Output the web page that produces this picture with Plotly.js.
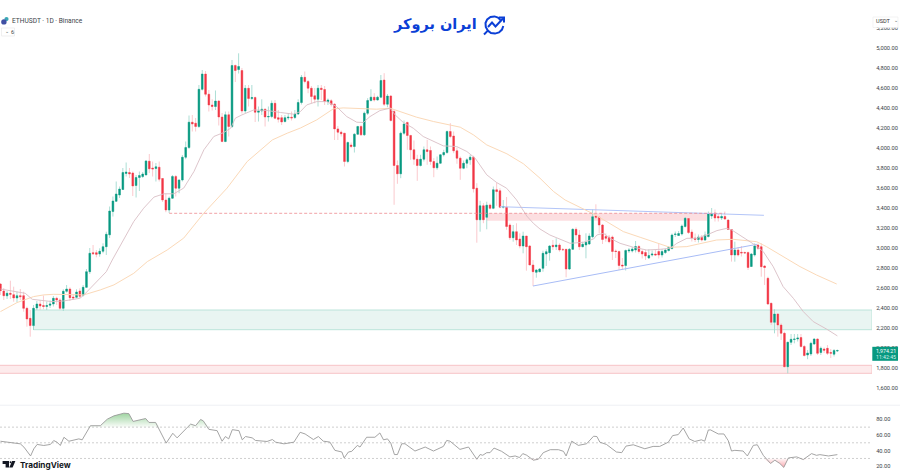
<!DOCTYPE html>
<html><head><meta charset="utf-8">
<script src="https://cdn.plot.ly/plotly-3.0.1.min.js"></script>
<style>html,body{margin:0;padding:0;background:#fff;overflow:hidden}</style>
</head><body><div id="c" style="width:900px;height:471px"></div>
<script>
const open=[2640,2570,2522,2547,2533,2500,2523,2523,2397,2297,
2224,2400,2440,2425,2415,2428,2440,2497,2480,2397,
2567,2590,2510,2507,2570,2527,2607,2763,2953,2953,
2940,2967,3013,3132,3365,3467,3530,3585,3745,3755,
3750,3625,3705,3715,3730,3868,3800,3795,3808,3695,
3480,3380,3498,3715,3598,3680,3908,4005,4258,4248,
4215,4587,4740,4538,4430,4415,4470,4310,4065,4332,
4215,4825,4785,4775,4370,4597,4495,4505,4358,4370,
4388,4310,4315,4447,4303,4303,4265,4300,4308,4305,
4340,4455,4707,4665,4598,4522,4488,4598,4585,4465,
4472,4438,4191,4158,4148,3865,4030,4015,4138,4215,
4132,4348,4475,4508,4480,4508,4680,4438,4520,4365,
3825,3742,4148,4255,4125,3982,3888,3825,3888,3982,
3975,3865,3802,3848,3932,3955,4165,4120,3972,3898,
3798,3848,3882,3908,3598,3282,3422,3307,3430,3397,
3582,3572,3408,3408,3230,3103,3163,3090,3020,3120,
3020,2830,2757,2763,2797,2940,2953,3027,3013,3030,
2985,2987,2790,2987,3187,3130,3013,3030,3040,3113,
3320,3307,3230,3115,3107,3110,2970,2965,2830,2825,
2970,2970,2980,3015,2965,2955,2900,2930,2940,2965,
2930,2955,2975,2995,3135,3125,3140,3215,3295,3160,
3100,3085,3105,3080,3115,3320,3350,3315,3300,3315,
3280,3185,2930,2980,2957,2955,2955,2815,2930,3030,
3013,2820,2697,2447,2257,2340,2230,2147,1813,2057,
2085,2090,2105,2015,1930,1940,2040,2090,1955,1990,
1997,1955,1938,1970];
const high=[2650,2600,2570,2673,2613,2563,2590,2563,2413,2380,
2430,2470,2475,2525,2465,2475,2520,2513,2497,2587,
2630,2607,2540,2587,2597,2630,2790,3000,3030,2980,
2997,3047,3163,3415,3515,3665,3615,3800,3855,3800,
3765,3730,3765,3760,3880,3940,3865,3850,3865,3700,
3545,3515,3730,3730,3688,3930,4065,4325,4330,4300,
4630,4780,4770,4580,4487,4575,4480,4350,4365,4365,
4880,4835,4947,4800,4630,4630,4630,4515,4415,4487,
4395,4415,4475,4480,4380,4330,4330,4348,4365,4380,
4487,4730,4765,4680,4620,4600,4630,4630,4620,4495,
4488,4448,4220,4175,4150,4065,4055,4148,4222,4232,
4365,4498,4588,4548,4522,4730,4748,4540,4530,4380,
3875,4165,4275,4265,4132,4075,3932,3932,4015,4082,
4015,3898,3915,3932,3982,4175,4248,4165,4005,3915,
3875,3898,3932,3922,3648,3472,3448,3463,3445,3615,
3655,3598,3480,3510,3247,3230,3247,3147,3163,3120,
3030,2880,2790,2800,2973,2987,3030,3080,3097,3047,
3000,2990,3000,3197,3207,3180,3063,3147,3147,3387,
3437,3320,3240,3147,3130,3125,2985,2975,2900,2985,
3000,3010,3070,3030,2985,2980,2985,2975,2980,3045,
2990,2995,3020,3145,3165,3170,3235,3310,3300,3185,
3145,3135,3130,3165,3365,3400,3385,3345,3340,3365,
3285,3190,3063,3010,3020,2965,2965,2950,3047,3045,
3047,2830,2713,2453,2387,2347,2247,2163,2063,2140,
2140,2140,2140,2030,1980,2063,2097,2097,2015,2005,
2030,1990,1990,1985];
const low=[2530,2480,2490,2490,2463,2457,2480,2363,2213,2113,
2180,2380,2380,2387,2380,2400,2415,2430,2380,2370,
2553,2470,2480,2497,2497,2515,2600,2740,2930,2907,
2913,2947,2930,3100,3315,3465,3500,3580,3715,3700,
3520,3505,3570,3700,3730,3750,3715,3665,3665,3460,
3358,3350,3490,3515,3548,3665,3888,3990,4165,4165,
4200,4575,4515,4365,4375,4380,4225,4058,4058,4115,
4200,4660,4745,4345,4350,4415,4480,4260,4265,4330,
4215,4265,4298,4288,4255,4230,4255,4280,4275,4290,
4330,4435,4647,4548,4447,4447,4415,4480,4430,4430,
4415,4080,4080,4115,3815,3848,3998,3955,4130,4120,
4120,4330,4465,4465,4475,4498,4420,4408,4265,3432,
3642,3698,4132,3982,3882,3832,3672,3815,3865,3832,
3832,3708,3782,3842,3915,3942,4098,3948,3842,3682,
3788,3798,3832,3555,3053,3163,3248,3187,3385,3388,
3422,3398,3395,3182,3080,3063,3030,2997,2947,2773,
2830,2620,2703,2757,2763,2820,2873,2980,2980,2963,
2975,2707,2780,2980,3063,2980,3007,2897,3030,3097,
3290,3147,3040,3063,3047,2880,2900,2780,2780,2775,
2950,2955,2955,2945,2895,2880,2890,2915,2920,2895,
2905,2940,2965,2985,3110,3120,3125,3205,3140,3065,
3060,3055,3065,3070,3105,3290,3265,3265,3280,3280,
3180,2864,2863,2915,2915,2940,2780,2810,2915,2980,
2713,2630,2430,2230,2147,2113,2080,1807,1747,2030,
2047,2065,2005,1915,1888,1920,2030,1930,1930,1950,
1930,1900,1915,1960];
const close=[2573,2523,2547,2537,2500,2523,2513,2397,2290,2224,
2397,2440,2420,2415,2425,2440,2497,2480,2397,2567,
2590,2503,2500,2560,2517,2607,2763,2947,2943,2937,
2967,3013,3137,3370,3470,3540,3590,3755,3760,3740,
3620,3705,3725,3740,3870,3792,3790,3812,3688,3480,
3380,3498,3715,3598,3680,3908,4005,4258,4240,4215,
4587,4740,4538,4430,4415,4470,4310,4065,4332,4215,
4825,4775,4815,4370,4597,4495,4505,4358,4370,4388,
4310,4315,4447,4298,4288,4260,4303,4308,4300,4340,
4455,4707,4665,4598,4515,4488,4598,4585,4465,4480,
4438,4191,4158,4142,3865,4055,4015,4138,4215,4132,
4348,4475,4508,4480,4508,4675,4438,4520,4275,3825,
3742,4148,4240,4125,3982,3888,3825,3888,3982,3965,
3865,3802,3848,3932,3955,4165,4115,3972,3898,3798,
3848,3882,3908,3592,3282,3422,3282,3428,3397,3582,
3565,3408,3415,3215,3103,3163,3080,3020,3120,3013,
2830,2763,2780,2790,2947,2963,3020,3013,3030,2980,
2982,2790,2987,3187,3130,3013,3037,3057,3120,3313,
3307,3230,3085,3097,3063,2965,2965,2825,2820,2975,
2980,2990,3015,2965,2940,2920,2925,2940,2930,2930,
2965,2980,3005,3130,3140,3145,3220,3297,3155,3100,
3085,3110,3080,3130,3340,3345,3300,3300,3315,3290,
3185,2930,2980,2930,2950,2950,2805,2940,3020,2997,
2813,2805,2440,2257,2340,2230,2147,1813,2057,2087,
2090,2100,2015,1925,1950,2047,2090,1947,1997,1977,
1947,1948,1975,1974.21];

const maFastX=[0,7.5,9.6,13,15.6,19,24,25,29,32,33.8,37.3,40.3,43.3,46.4,49.4,52.4,55.4,58.5,61.5,64.5,67.5,69.6,71,73,76.6,80.6,84.7,88.7,90.7,92.6,95.6,98.6,101.6,104.7,107.7,109.7,111.7,114.7,117.8,119.3,121.8,124.8,127.8,130.9,133.9,137.9,141,143.5,147,150,153,156,159.1,161.1,163.1,166.1,169.2,172.2,176.2,179.3,180.3,182.3,184.3,187.3,191.4,195.4,199.4,202.4,204.5,207.5,210.5,213.5,216.6,219.6,221.1,223.6,228.1,230.6,233.6,236.6,239.7,242.7,245.7,249.8,253];
const maFastY=[2590,2547,2487,2473,2464,2470,2497,2523,2663,2763,2880,3089,3265,3398,3509,3542,3542,3599,3765,3982,4115,4155,4198,4298,4331,4381,4375,4355,4338,4365,4431,4464,4464,4414,4314,4258,4255,4314,4374,4398,4331,4255,4198,4115,4065,4021,4015,3965,3898,3732,3655,3598,3482,3320,3247,3190,3130,3087,3047,3057,3090,3130,3147,3097,3047,3007,2980,2987,2997,3047,3097,3097,3130,3174,3197,3180,3125,3030,2964,2814,2614,2497,2364,2264,2188,2121];
const maSlowX=[0,5,10,13.1,16.1,20.2,25.2,30.2,34.3,40.3,44.4,50.4,55.4,61.5,68.5,74.6,82.2,86.7,90.7,95.6,100.6,103.6,108.7,113.7,117.8,120.8,125.8,130.9,134.9,139,143,147,153.1,158.1,163.1,167.2,170.7,175.2,179.3,183.3,188.3,193.4,198.4,202.4,207.5,212.5,216.5,221.5,228.6,231.6,236.6,241.7,246.7,252.8];
const maSlowY=[2364,2454,2514,2531,2537,2531,2531,2581,2631,2747,2864,2980,3099,3349,3599,3865,4081,4148,4200,4281,4391,4401,4398,4388,4398,4364,4308,4265,4238,4208,4131,4031,3942,3842,3698,3565,3480,3411,3340,3263,3164,3107,3054,3007,3014,3054,3080,3087,3063,3013,2914,2814,2730,2640];

const rsiX=[0,3,6,7.1,9.1,10.1,11.1,13.1,15.1,16.1,17.1,18.1,19.2,20.7,23.7,24.7,27.2,30.2,32.3,34.3,37.3,38.8,40.1,43.9,44.9,46.9,48.2,50.1,52.1,53.4,56.5,57.5,59,60.5,61.3,63,65.5,67,68,69,70.1,72.1,73.1,74.1,76.1,77.1,80.6,82.2,83.2,85.7,88.7,
90.6,92.1,94.6,96.1,97.6,99.6,101.1,103.2,103.9,105.2,106.2,107.9,108.7,110.7,113.2,114.7,115.8,117,118,119.1,120,121.3,122.3,125.3,128.4,130.9,133.9,134.9,135.9,138.9,141.5,144,145,145.8,147,148,149.2,151.5,154,155.6,156.9,157.9,159.1,161.1,162.6,164.1,166.2,168.7,170.2,171,172.7,174.7,177.2,179.3,180.3,
181.2,183.2,186.2,187.8,189.1,191.3,194.8,197.3,199.3,201.9,203.2,204.9,206.4,208.2,209.9,211.9,212.9,214,214.7,217,218.7,220,221,222,224.5,225.8,227.6,228.8,230.6,232.8,234.1,235.6,236.8,238.2,240.7,242.7,245.2,246.7,247.7,250.3,253];
const rsiY=[52,50,48.7,44.5,33.2,42.4,47.9,46.6,47.9,52.9,50.8,46.6,57.1,52,55,53.8,71.8,71.8,80.2,84.4,87.8,87.3,77.3,81,76,76,65.5,49.6,62.2,56.3,69.7,73.9,71.8,79.8,78.1,67.2,65.5,52,58,55,66.8,65.5,53.8,58,56.3,53,51.7,54.2,50.8,48.7,50.8,
63.4,61.3,54.2,58,52.1,50.9,40.4,38.3,30.7,38.3,39.1,46.7,44.6,57.1,57.1,62.6,53.8,55,49.6,35,35,48.8,48.8,39.5,44.6,39.5,45.4,53,52.1,41.6,44.6,29,35,34.1,37.4,37.4,43.3,39.1,32,33.2,31.2,36.2,34.1,27.8,29,37.4,41.2,41.2,39.1,33.2,52.1,46.7,48.8,58.4,58,
50.8,47.9,38.3,37.4,45.8,47.5,42.4,45.4,45.4,50.8,59.2,60.5,68.9,55,51.7,53.8,52.1,66.4,66.4,61.3,61.3,52.9,39.5,40.4,39.5,33.2,46.7,47.5,34,23.6,27.8,23.6,18.6,30.7,32,28.6,36.2,34,34.9,33.2,34.9];

const priceTicks=[1600,1800,2000,2200,2400,2600,2800,3000,3200,3400,3600,3800,4000,4200,4400,4600,4800,5000,5200];
const rsiTicks=[20,40,60,80];
const rsiLevels=[70,50,30];
const greenZone=[2183,2380], greenZoneStart=10;
const pinkZone=[1747,1827], pinkZoneStart=-1;
const midZone=[3273,3347], midZoneRange=[147,214];
const dashedLevel=3347, dashedRange=[51,219];
const upperTrendX=[151,230.8], upperTrendY=[3413,3327];
const lowerTrendX=[161,228.7], lowerTrendY=[2620,3037];
const lastPrice='1,974.21', countdown='11:42:45';
const xRange=[-0.136,263.47], priceRange=[1430,5480], rsiRange=[14,97];

const W=872,H=471;
const fx=x=>(x/W).toFixed(5), fy=y=>(1-y/H).toFixed(5);
const path=pts=>pts.map((p,i)=>(i?'L':'M')+fx(p[0])+' '+fy(p[1])).join(' ');
const box=(a,b,c,d,fill,line,layer)=>({type:'rect',xref:'paper',yref:'paper',x0:a/W,x1:b/W,y0:1-c/H,y1:1-d/H,fillcolor:fill,line:{color:line||fill,width:line?0.6:0},layer:layer||'above'});
const idx=open.map((_,i)=>i);
const line=(x,y,color,w,dash,axis)=>({type:'scatter',mode:'lines',x,y,yaxis:axis||'y',line:{color,width:w,dash:dash||'solid'},hoverinfo:'skip',showlegend:false});
const bodyTop=open.map((v,i)=>Math.max(v,close[i])), bodyLow=open.map((v,i)=>Math.min(v,close[i]));

const traces=[
 line(upperTrendX,upperTrendY,'#b3c5f8',1),
 line(lowerTrendX,lowerTrendY,'#a8bcf6',1),
 line(maSlowX,maSlowY,'#fbd9b8',1),
 {type:'candlestick',x:idx,open,high,low,close,whiskerwidth:0,
  increasing:{line:{color:'#97d5ca',width:0.8},fillcolor:'#089981'},
  decreasing:{line:{color:'#fabbc0',width:0.8},fillcolor:'#F23645'},
  hoverinfo:'skip',showlegend:false},
 {type:'candlestick',x:idx,open,high:bodyTop,low:bodyLow,close,whiskerwidth:0,
  increasing:{line:{color:'#089981',width:0.3},fillcolor:'#089981'},
  decreasing:{line:{color:'#F23645',width:0.3},fillcolor:'#F23645'},
  hoverinfo:'skip',showlegend:false},
 line(maFastX,maFastY,'#d9bec5',0.9),
 line(dashedRange,[dashedLevel,dashedLevel],'#ee8a8f',0.8,'3px,2px')
];
rsiLevels.forEach(v=>traces.push(line(xRange,[v,v],'#c9c9c9',0.9,'2px,2px','y2')));
traces.push(line(rsiX,rsiX.map(()=>70),'rgba(0,0,0,0)',0,'solid','y2'));
traces.push({type:'scatter',mode:'lines',x:rsiX,y:rsiY.map(v=>Math.max(v,70)),yaxis:'y2',line:{width:0,color:'rgba(0,0,0,0)'},fill:'tonexty',
 fillgradient:{type:'vertical',start:88,stop:70,colorscale:[[0,'rgba(76,175,80,0.55)'],[1,'rgba(76,175,80,0.03)']]},hoverinfo:'skip',showlegend:false});
traces.push(line(rsiX,rsiX.map(()=>30),'rgba(0,0,0,0)',0,'solid','y2'));
traces.push({type:'scatter',mode:'lines',x:rsiX,y:rsiY.map(v=>Math.min(v,30)),yaxis:'y2',line:{width:0,color:'rgba(0,0,0,0)'},fill:'tonexty',
 fillgradient:{type:'vertical',start:18,stop:30,colorscale:[[0,'rgba(242,54,69,0.45)'],[1,'rgba(242,54,69,0.03)']]},hoverinfo:'skip',showlegend:false});
traces.push(line(rsiX,rsiY,'#9a9a9a',0.9,'solid','y2'));

const blue='#0b3fd6';
const zone=(x0,x1,r,fill,ln)=>({type:'rect',xref:'x',yref:'y',x0,x1,y0:r[0],y1:r[1],fillcolor:fill,line:{color:ln,width:ln==='rgba(0,0,0,0)'?0:1},layer:'below'});
const shapes=[
 zone(greenZoneStart,xRange[1],greenZone,'#e9f5f2','#bce4da'),
 zone(pinkZoneStart,xRange[1],pinkZone,'#fdebec','#f7c4c7'),
 zone(midZoneRange[0],midZoneRange[1],midZone,'#fcdee0','rgba(0,0,0,0)'),
 {type:'line',xref:'paper',yref:'paper',x0:0,x1:900/W,y0:1-405.2/H,y1:1-405.2/H,line:{color:'#eef0f4',width:1}},
 box(872.3,898,346.8,360.8,'#089981'),
 {type:'circle',xref:'paper',yref:'paper',x0:fx(4.4),x1:fx(8.6),y0:fy(21.2),y1:fy(17),fillcolor:'#3aa7b5',line:{width:0}},
 {type:'circle',xref:'paper',yref:'paper',x0:fx(1.2),x1:fx(6.6),y0:fy(24.6),y1:fy(19.2),fillcolor:'#3f4fa3',line:{width:0}},
 {type:'rect',xref:'paper',yref:'paper',x0:fx(1.5),x1:fx(14.5),y0:fy(36),y1:fy(28),fillcolor:'#fff',line:{color:'#e6e6e6',width:0.6}},
 {type:'path',xref:'paper',yref:'paper',path:path([[500.5,20],[498,17.6],[494.5,16.4],[490.5,17],[487.2,19.4],[485.5,23],[485.8,27],[487.8,30.6],[484,34.5]]),line:{color:blue,width:2},fillcolor:'rgba(0,0,0,0)'},
 {type:'path',xref:'paper',yref:'paper',path:path([[487.8,30.6],[491,33],[495,33.6],[499,32.4],[502,29.6],[503.3,26]]),line:{color:blue,width:2},fillcolor:'rgba(0,0,0,0)'},
 {type:'path',xref:'paper',yref:'paper',path:path([[488,27],[492,22.5],[495.5,26.5],[503,18.5]]),line:{color:blue,width:2},fillcolor:'rgba(0,0,0,0)'},
 {type:'path',xref:'paper',yref:'paper',path:path([[499,17.5],[504,17.5],[504,22.5]]),line:{color:blue,width:2},fillcolor:'rgba(0,0,0,0)'},
 {type:'path',xref:'paper',yref:'paper',path:path([[2.6,461],[9,461],[9,467.5],[5.6,467.5],[5.6,464],[2.6,464]])+' Z',fillcolor:'#131722',line:{width:0}},
 {type:'circle',xref:'paper',yref:'paper',x0:fx(9.6),x1:fx(11.6),y0:fy(463.3),y1:fy(461.3),fillcolor:'#131722',line:{width:0}},
 {type:'path',xref:'paper',yref:'paper',path:path([[12.2,461],[15.4,461],[12.6,467.5],[9.2,467.5]])+' Z',fillcolor:'#131722',line:{width:0}},
 {type:'rect',xref:'paper',yref:'paper',x0:fx(873),x1:fx(898),y0:fy(27.5),y1:fy(17),fillcolor:'#fff',line:{color:'#ececec',width:0.6},layer:'above'}
];
const note=(t,x,y,o)=>Object.assign({text:t,xref:'paper',yref:'paper',x:x/W,y:1-y/H,xanchor:'left',yanchor:'middle',showarrow:false,borderpad:0,font:{family:'Roboto, sans-serif',size:6.6,color:'#3b3f48'}},o||{});
const annotations=[
 note('ETHUSDT · 1D · Binance',10.8,21),
 note('⌄',4,31.3,{font:{family:'DejaVu Sans',size:5,color:'#555'}}),
 note('6',9.5,32,{font:{family:'Roboto',size:5.6,color:'#444'}}),
 note('ایران بروکر',478,24.5,{xanchor:'right',font:{family:'DejaVu Sans',size:14.5,color:blue,weight:700}}),
 note('TradingView',19,464.5,{font:{family:'Inter, Roboto',size:8.2,color:'#131722',weight:700}}),
 note('USDT',875,21.5,{font:{family:'Roboto',size:5.6,color:'#333'}}),
 note('⌄',893,20.5,{font:{family:'DejaVu Sans',size:5,color:'#555'}}),
 note(lastPrice,875,350.5,{font:{family:'Roboto',size:5.3,color:'#fff'}}),
 note(countdown,875,356.8,{font:{family:'Roboto',size:5.2,color:'#d8f2ec'}})
];
const axisFont={family:'Roboto, sans-serif',size:5.7,color:'#3b3f48'};
const tickOpts={ticks:'outside',ticklen:2,tickcolor:'rgba(0,0,0,0)',tickwidth:0};
const layout={width:900,height:471,margin:{l:0,r:28,t:0,b:0,pad:0},paper_bgcolor:'#fff',plot_bgcolor:'#fff',showlegend:false,dragmode:false,boxgap:0.3,
 xaxis:{range:xRange,domain:[0,1],showticklabels:false,ticks:'',showgrid:false,zeroline:false,showline:false,rangeslider:{visible:false},fixedrange:true},
 yaxis:Object.assign({domain:[66/H,1],range:priceRange,side:'right',tickvals:priceTicks,tickformat:',.2f',tickfont:axisFont,showgrid:false,zeroline:false,showline:false,fixedrange:true,automargin:false},tickOpts),
 yaxis2:Object.assign({domain:[0,65/H],range:rsiRange,side:'right',tickvals:rsiTicks,tickformat:'.2f',tickfont:axisFont,showgrid:false,zeroline:false,showline:false,fixedrange:true,automargin:false},tickOpts),
 shapes,annotations};
Plotly.newPlot('c',traces,layout,{displayModeBar:false,staticPlot:true});
</script></body></html>
